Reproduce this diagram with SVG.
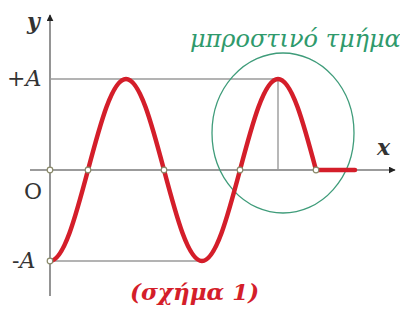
<svg xmlns="http://www.w3.org/2000/svg" width="400" height="322" viewBox="0 0 400 322">
<style>
.ax{stroke:#7a7a7a;stroke-width:1.6;fill:none}
.gd{stroke:#9a9a9a;stroke-width:1.4;fill:none}
.wave{stroke:#d41e2a;stroke-width:4.5;fill:none;stroke-linecap:round;stroke-linejoin:round}
.pt{fill:#fff;stroke:#8a8a6a;stroke-width:1.2}
.lbl{font-family:"DejaVu Serif","Liberation Serif",serif;font-size:22px;fill:#333}
</style>
<defs>
<marker id="arr" viewBox="0 0 10 10" refX="9" refY="5" markerWidth="7" markerHeight="7" markerUnits="userSpaceOnUse" orient="auto">
<path d="M0,0 L10,5 L0,10 z" fill="#222"/>
</marker>
</defs>
<g id="axes">
<line class="ax" x1="50" y1="296" x2="50" y2="15" marker-end="url(#arr)"/>
<line class="ax" x1="30" y1="170" x2="395" y2="170" marker-end="url(#arr)"/>
</g>
<g id="guides">
<line class="gd" x1="50" y1="79" x2="278" y2="79"/>
<line class="gd" x1="50" y1="261" x2="202" y2="261"/>
<line class="gd" x1="278" y1="79" x2="278" y2="170"/>
</g>
<g id="region">
<ellipse cx="283" cy="133" rx="71" ry="80" fill="none" stroke="#3f9c7a" stroke-width="1.3"/>
</g>
<g id="wave">
<path class="wave" d="M50,261 C63.75,261 75.61,216.62 88,170 C100.39,123.38 112.25,79 126,79 C139.75,79 151.61,123.38 164,170 C176.39,216.62 188.25,261 202,261 C215.75,261 227.61,216.62 240,170 C252.39,123.38 264.25,79 278,79 C291.75,79 303.61,123.38 316,170 L355,170"/>
</g>
<g id="points">
<circle class="pt" cx="50" cy="170" r="2.8"/>
<circle class="pt" cx="88" cy="170" r="2.8"/>
<circle class="pt" cx="164" cy="170" r="2.8"/>
<circle class="pt" cx="240" cy="170" r="2.8"/>
<circle class="pt" cx="316" cy="170" r="2.8"/>
<circle class="pt" cx="50" cy="261" r="2.8"/>
</g>
<g id="labels">
<text class="lbl" x="27" y="29" font-style="italic" font-weight="bold">y</text>
<text class="lbl" x="377" y="155" font-style="italic" font-weight="bold">x</text>
<text class="lbl" x="7" y="86">+<tspan font-style="italic">A</tspan></text>
<text class="lbl" x="24" y="199">O</text>
<text class="lbl" x="12" y="268">-<tspan font-style="italic">A</tspan></text>
<text x="190" y="47" font-family="'DejaVu Serif','Liberation Serif',serif" font-size="24" font-style="italic" fill="#2f9a6c">μπροστινό τμήμα</text>
<text x="130" y="300" font-family="'DejaVu Serif','Liberation Serif',serif" font-size="23" font-style="italic" font-weight="bold" fill="#d41e2a">(σχήμα 1)</text>
</g>
</svg>
